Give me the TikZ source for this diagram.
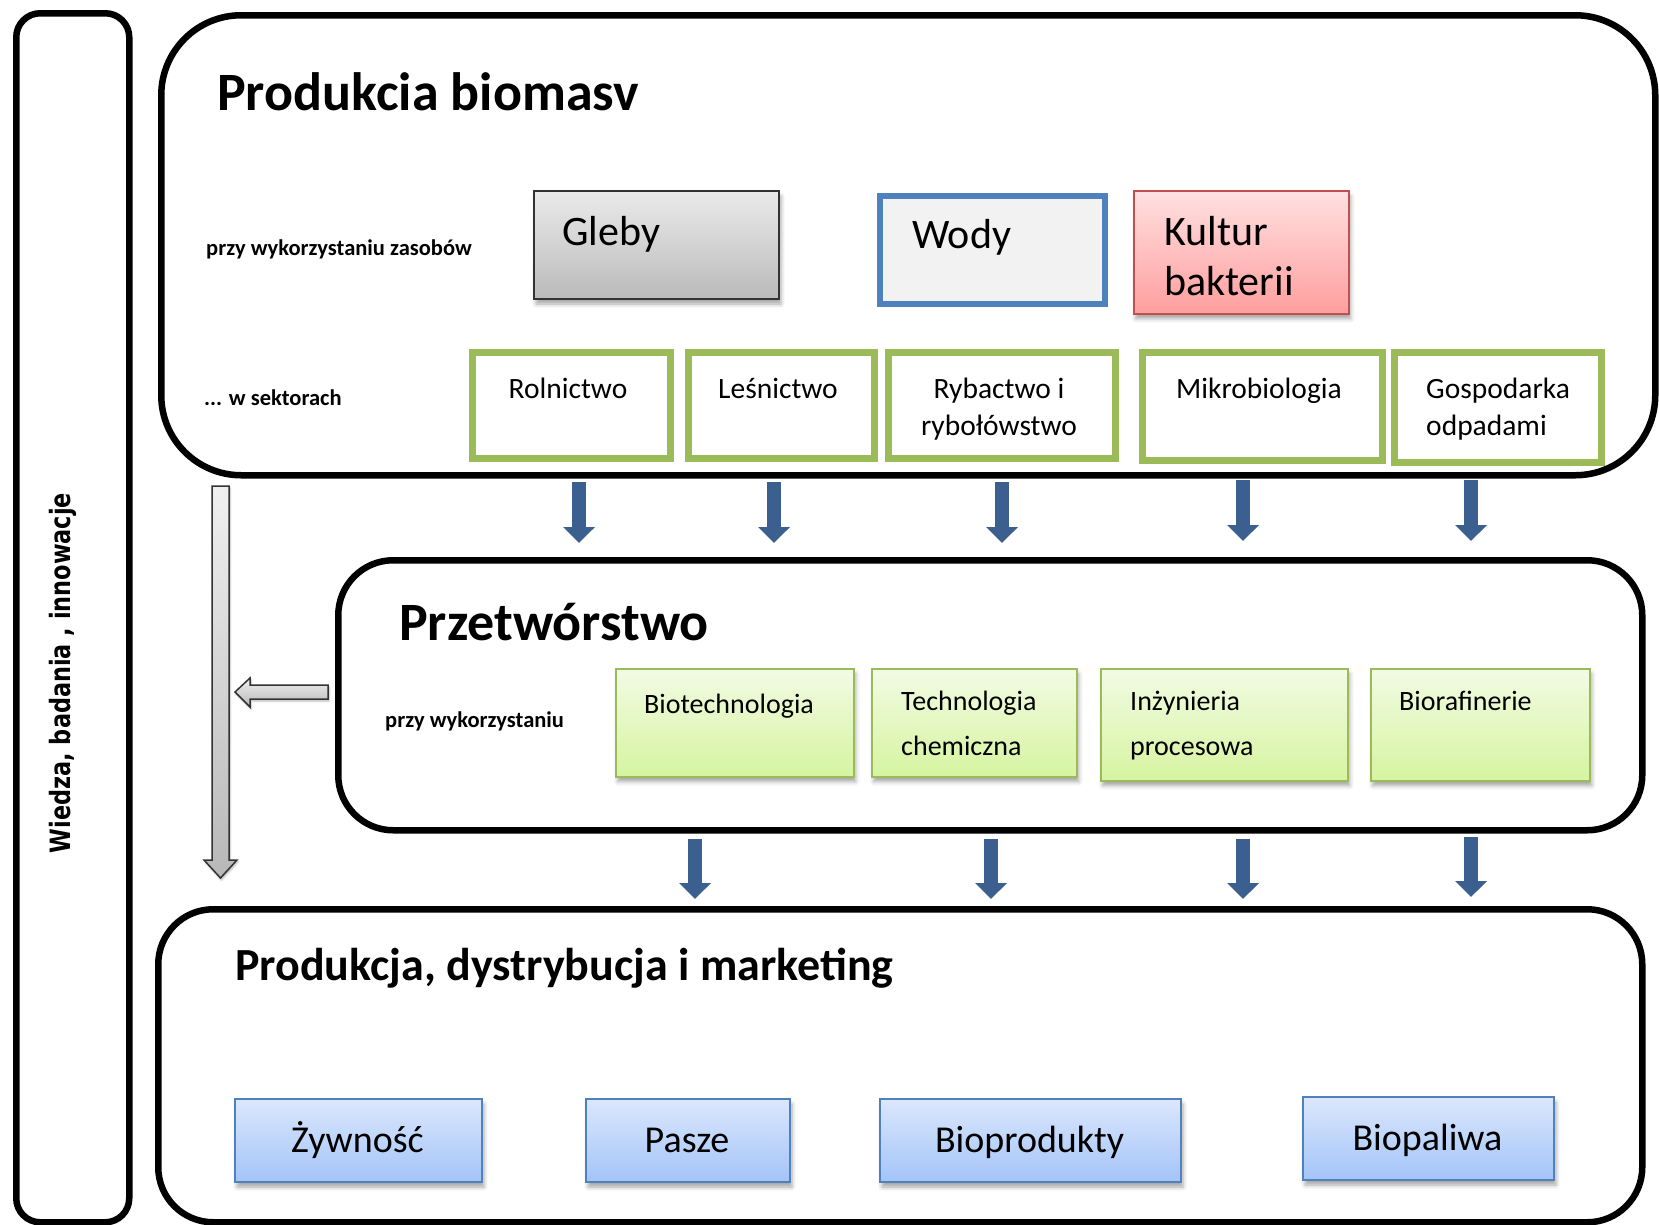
\documentclass[tikz,border=0pt]{standalone}
\usepackage{fontspec}
\setmainfont{Carlito}
\newfontfamily\vfont{DejaVu Sans}
\usetikzlibrary{arrows.meta,shadows.blur}
\definecolor{grnb}{HTML}{9BBB59}
\definecolor{blub}{HTML}{4F81BD}
\definecolor{redb}{HTML}{C0504D}
\definecolor{arrb}{HTML}{3B5F8F}
\begin{document}
\begin{tikzpicture}[x=1pt,y=-1pt,
  bigbox/.style={draw=black, line width=6.5pt, anchor=north west, inner sep=0pt},
  shad/.style={blur shadow={shadow xshift=2pt, shadow yshift=-5pt, shadow blur radius=4pt, shadow opacity=35}},
  greybox/.style={draw=black!80, line width=2pt, top color=black!8, bottom color=black!27, anchor=north west, inner sep=0pt, shad},
  waterbox/.style={draw=blub, line width=6pt, fill=black!5, anchor=north west, inner sep=0pt},
  pinkbox/.style={draw=redb, line width=1.5pt, top color=red!12, bottom color=red!38, anchor=north west, inner sep=0pt, shad},
  sectbox/.style={draw=grnb, line width=7pt, fill=white, anchor=north west, inner sep=0pt},
  procbox/.style={draw=grnb, line width=1.5pt, top color={rgb,255:red,242;green,251;blue,228}, bottom color={rgb,255:red,214;green,244;blue,160}, anchor=north west, inner sep=0pt, shad},
  prodbox/.style={draw=blub, line width=2pt, top color={rgb,255:red,219;green,231;blue,252}, bottom color={rgb,255:red,163;green,196;blue,248}, anchor=north west, inner sep=0pt, shad},
  txt/.style={inner sep=0pt, anchor=base west},
  ctxt/.style={inner sep=0pt, anchor=base},
  ftitle/.style={font=\fontsize{54pt}{60pt}\selectfont\bfseries},
  fsmall/.style={font=\fontsize{22.5pt}{26pt}\selectfont\bfseries},
  fres/.style={font=\fontsize{42pt}{48pt}\selectfont},
  fsect/.style={font=\fontsize{29.5pt}{36pt}\selectfont},
  fproc/.style={font=\fontsize{28pt}{34pt}\selectfont},
  fprod/.style={font=\fontsize{38pt}{44pt}\selectfont},
  bluearr/.style={draw=arrb, line width=14pt, -{Triangle[width=31pt,length=16pt]}},
  hollow/.style={draw=black!80, line width=1.5pt, top color=black!6, bottom color=black!28,
     blur shadow={shadow xshift=1pt, shadow yshift=-2pt, shadow blur radius=2pt, shadow opacity=30}}
]
\useasboundingbox (0,0) rectangle (1659,1224);

% outer frames
\node[bigbox, rounded corners=24pt, minimum width=113pt, minimum height=1209pt] (left) at (13,10) {};
\node[bigbox, rounded corners=80pt, minimum width=1494pt, minimum height=460pt] (top) at (158,12) {};
\node[bigbox, rounded corners=55pt, minimum width=1304pt, minimum height=270pt] (mid) at (335,557) {};
\node[bigbox, rounded corners=55pt, minimum width=1484pt, minimum height=313pt] (bot) at (155,906) {};

% vertical label
\node[inner sep=0pt, rotate=90, font=\fontsize{28pt}{32pt}\selectfont\vfont\bfseries] (wiedza) at (63,673)
  {\scalebox{0.8}[1]{Wiedza, badania , innowacje}};

% top section
\node[txt, ftitle] (t1) at (217,110) {Produkcia biomasv};
\node[txt, fsmall] (l1) at (206,255) {przy wykorzystaniu zasobów};
\node[txt, fsmall] (l2) at (204,405) {... w sektorach};

\node[greybox, minimum width=245pt, minimum height=108pt] (gleby) at (533,190) {};
\node[txt, fres] (glebyt) at (562,245) {Gleby};
\node[waterbox, minimum width=225pt, minimum height=108pt] (wody) at (877,193) {};
\node[txt, fres] (wodyt) at (912,248) {Wody};
\node[pinkbox, minimum width=215pt, minimum height=123pt] (kult) at (1133,190) {};
\node[txt, fres] (kultt1) at (1164,245) {Kultur};
\node[txt, fres] (kultt2) at (1164,295) {bakterii};

\node[sectbox, minimum width=198pt, minimum height=106pt] (rol) at (469,349) {};
\node[ctxt, fsect] (rolt) at (568,398) {Rolnictwo};
\node[sectbox, minimum width=186pt, minimum height=106pt] (les) at (685,349) {};
\node[ctxt, fsect] (lest) at (778,398) {Leśnictwo};
\node[sectbox, minimum width=227pt, minimum height=106pt] (ryb) at (885,349) {};
\node[ctxt, fsect] (rybt1) at (999,398) {Rybactwo i};
\node[ctxt, fsect] (rybt2) at (999,435) {rybołówstwo};
\node[sectbox, minimum width=240pt, minimum height=108pt] (mik) at (1139,349) {};
\node[ctxt, fsect] (mikt) at (1259,398) {Mikrobiologia};
\node[sectbox, minimum width=207pt, minimum height=110pt] (gos) at (1391,349) {};
\node[txt, fsect] (gost1) at (1426,398) {Gospodarka};
\node[txt, fsect] (gost2) at (1426,435) {odpadami};

% arrows top -> middle
\coordinate (a1s) at (579,482); \coordinate (a1e) at (579,543);
\coordinate (a2s) at (774,482); \coordinate (a2e) at (774,543);
\coordinate (a3s) at (1002,482); \coordinate (a3e) at (1002,543);
\coordinate (a4s) at (1243,480); \coordinate (a4e) at (1243,541);
\coordinate (a5s) at (1471,480); \coordinate (a5e) at (1471,541);
\draw[bluearr] (a1s) -- (a1e);
\draw[bluearr] (a2s) -- (a2e);
\draw[bluearr] (a3s) -- (a3e);
\draw[bluearr] (a4s) -- (a4e);
\draw[bluearr] (a5s) -- (a5e);

% middle section
\node[txt, ftitle] (t2) at (399,640) {Przetwórstwo};
\node[txt, fsmall] (l3) at (385,727) {przy wykorzystaniu};

\node[procbox, minimum width=238pt, minimum height=108pt] (bio) at (615,668) {};
\node[txt, fproc] (biot) at (644,713) {Biotechnologia};
\node[procbox, minimum width=205pt, minimum height=108pt] (tech) at (871,668) {};
\node[txt, fproc] (techt1) at (901,710) {Technologia};
\node[txt, fproc] (techt2) at (901,755) {chemiczna};
\node[procbox, minimum width=247pt, minimum height=112pt] (inz) at (1100,668) {};
\node[txt, fproc] (inzt1) at (1130,710) {Inżynieria};
\node[txt, fproc] (inzt2) at (1130,755) {procesowa};
\node[procbox, minimum width=219pt, minimum height=112pt] (bra) at (1370,668) {};
\node[txt, fproc] (brat) at (1399,710) {Biorafinerie};

% grey hollow arrows
\draw[hollow] (212,486) -- (229,486) -- (229,860) -- (237,860) -- (220.5,878) -- (204,860) -- (212,860) -- cycle;
\draw[hollow] (328,685) -- (250,685) -- (250,678) -- (235,692) -- (250,707) -- (250,699) -- (328,699) -- cycle;

% arrows middle -> bottom
\coordinate (b1s) at (695,839); \coordinate (b1e) at (695,899);
\coordinate (b2s) at (991,839); \coordinate (b2e) at (991,899);
\coordinate (b3s) at (1243,839); \coordinate (b3e) at (1243,899);
\coordinate (b4s) at (1471,837); \coordinate (b4e) at (1471,897);
\draw[bluearr] (b1s) -- (b1e);
\draw[bluearr] (b2s) -- (b2e);
\draw[bluearr] (b3s) -- (b3e);
\draw[bluearr] (b4s) -- (b4e);

% bottom section
\node[txt, font=\fontsize{46pt}{52pt}\selectfont\bfseries] (t3) at (235,980) {Produkcja, dystrybucja i marketing};

\node[prodbox, minimum width=247pt, minimum height=83pt] (zyw) at (234,1098) {};
\node[ctxt, fprod] (zywt) at (357.5,1152) {Żywność};
\node[prodbox, minimum width=204pt, minimum height=83pt] (pas) at (585,1098) {};
\node[ctxt, fprod] (past) at (687,1152) {Pasze};
\node[prodbox, minimum width=301pt, minimum height=83pt] (bpr) at (879,1098) {};
\node[ctxt, fprod] (bprt) at (1029.5,1152) {Bioprodukty};
\node[prodbox, minimum width=251pt, minimum height=83pt] (bpa) at (1302,1096) {};
\node[ctxt, fprod] (bpat) at (1427.5,1150) {Biopaliwa};
\end{tikzpicture}
\end{document}
